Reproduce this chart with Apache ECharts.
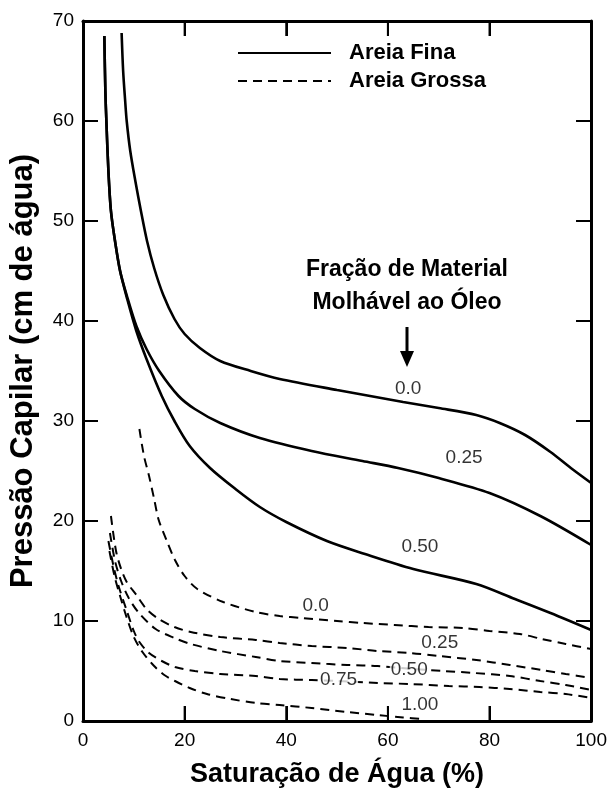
<!DOCTYPE html>
<html>
<head>
<meta charset="utf-8">
<script src="https://cdn.jsdelivr.net/npm/echarts@6/dist/echarts.min.js"></script>
<style>
  html, body { margin: 0; padding: 0; background: #fff; }
  #chart { width: 610px; height: 793px; }
</style>
</head>
<body>
<div id="chart"></div>
<script>
// Curvas de pressão capilar: [saturação de água (%), pressão capilar (cm de água)]

// Areia fina, por fração de material molhável ao óleo
const fina00 = [[7.6,68.8],[7.9,65],[8.3,62],[8.6,60],[9.3,57],[10.3,54],[11.4,51],[12.6,48],[14,45.3],[15.8,42.6],[18,40.2],[20,38.7],[23,37.3],[27,36],[33,35],[38.7,34.2],[50,33.1],[63,31.9],[70,31.3],[77.4,30.6],[82,29.8],[87,28.6],[92,26.9],[96,25.3],[100,23.8]];
const fina25 = [[4.2,68.5],[4.4,63],[4.6,60],[5.0,55],[5.5,51],[6.3,48],[7.3,45],[8.7,42.4],[10.5,39.5],[12.5,37.2],[15,35],[18.8,32.5],[22,31.2],[27,29.8],[34.8,28.3],[45,27],[55,26],[62,25.3],[70,24.3],[80,22.8],[90,20.5],[100,17.6]];
const fina50 = [[4.2,68.5],[4.4,63],[4.6,60],[5.0,55],[5.5,51],[6.3,48],[7.3,45],[8.7,42.2],[10.5,39],[12.5,36.2],[15.5,32.5],[18,30],[21,27.5],[25,25.3],[30,23.2],[34.8,21.4],[40,19.9],[48,18],[55.5,16.7],[65,15.2],[77.4,13.7],[85,12.2],[92,10.8],[100,9.1]];

// Areia grossa, por fração de material molhável ao óleo
const grossa00 = [[11.1,29.2],[12,26.5],[13,24.5],[14,22.2],[14.9,20.1],[16.5,18],[18.1,16.1],[20,14.5],[22.5,13.2],[27.6,11.9],[34,10.9],[38.7,10.5],[43,10.3],[50,10],[55,9.8],[61.3,9.6],[68,9.4],[74.8,9.3],[80,9.0],[86,8.7],[90.3,8.2],[95,7.7],[100,7.2]];
const grossa25 = [[5.5,20.5],[6.5,17],[7.5,15.2],[8.6,13.9],[10.5,12.6],[12.5,11.2],[14.9,10.2],[18,9.4],[21.2,8.9],[27,8.4],[34,8.1],[38.7,7.8],[45,7.5],[52,7.3],[58,7.0],[64.4,6.8],[70,6.5],[77.4,6.1],[84,5.6],[90.3,5.1],[95,4.7],[100,4.3]];
const grossa50 = [[5.3,18.8],[6.3,16],[7.5,14],[9,12.3],[11,10.8],[14.3,9.2],[18,8.3],[21.2,7.7],[27,7.0],[34,6.4],[38.7,6.0],[45,5.8],[52,5.6],[58,5.5],[65,5.2],[71,5.0],[77,4.8],[84,4.5],[90,4.0],[95,3.6],[100,3.1]];
const grossa75 = [[5.0,18],[6,15.5],[7,13.5],[8.5,11.2],[10,9],[11.1,7.9],[13,6.8],[15.5,6.0],[18.1,5.4],[22,5.0],[27,4.7],[34,4.5],[38.7,4.2],[45,4.1],[50,4.0],[58,3.8],[64.4,3.7],[72,3.5],[78,3.4],[84,3.2],[90,2.9],[95,2.7],[100,2.3]];
const grossa100 = [[5.2,17],[6.2,14.5],[7.3,12.5],[8.5,10.5],[10,8.4],[11.7,6.9],[14,5.5],[16,4.6],[18.1,4.0],[21,3.3],[24.4,2.7],[29,2.2],[34,1.8],[38.7,1.6],[45,1.3],[52,0.9],[58,0.6],[63,0.35],[67,0.2]];

// Rótulos das frações: texto e ponto de ancoragem (saturação, pressão)
const rotulosFina = ['0.0', '0.25', '0.50'];
const ancorasFina = [[64, 33.2], [75, 26.3], [66.3, 17.4]];
const rotulosGrossa = ['0.0', '0.25', '0.50', '0.75', '1.00'];
const ancorasGrossa = [[45.8, 11.5], [70.2, 7.8], [64.2, 5.1], [50.3, 4.1], [66.3, 1.6]];

// Escalas e marcas internas da moldura
const xTicks = { min: 0, max: 100, interval: 20 };
const yTicks = { min: 0, max: 70, interval: 10 };
const marcasX = [20, 40, 60, 80];
const marcasY = [10, 20, 30, 40, 50, 60];

const nomeFina = 'Areia Fina';
const nomeGrossa = 'Areia Grossa';

const fonte = 'Liberation Sans, Arial, sans-serif';
const TRACO = 15;

function curva(name, data, dashed) {
  return {
    type: 'line',
    name: name,
    data: data,
    symbol: 'none',
    smooth: 0.3,
    silent: true,
    lineStyle: dashed
      ? { color: '#000', width: 2, type: [9, 6] }
      : { color: '#000', width: 2.6 },
    z: 3
  };
}

function rotulos(textos, ancoras) {
  return {
    type: 'scatter',
    name: 'rotulos',
    symbolSize: 0,
    silent: true,
    z: 5,
    data: textos.map((t, i) => ({ value: ancoras[i], texto: t })),
    label: {
      show: true,
      position: 'inside',
      formatter: p => p.data.texto,
      color: '#000',
      fontSize: 19,
      fontFamily: fonte,
      backgroundColor: '#fff',
      padding: [0, 1]
    }
  };
}

function eixo(extra, noZero) {
  return Object.assign({
    type: 'value',
    axisLine: { show: true, onZero: noZero, lineStyle: { color: '#000', width: 3 } },
    axisTick: { show: true, inside: true, length: TRACO, lineStyle: { color: '#000', width: 2 } },
    splitLine: { show: false }
  }, extra);
}

// Anotação: texto e seta apontando para os rótulos das curvas
const anotacao = [
  {
    type: 'text', silent: true,
    style: {
      x: 407, y: 270, text: 'Fração de Material', align: 'center', verticalAlign: 'middle',
      fontSize: 23, fontWeight: 'bold', fontFamily: fonte, fill: '#000'
    }
  },
  {
    type: 'text', silent: true,
    style: {
      x: 407, y: 303, text: 'Molhável ao Óleo', align: 'center', verticalAlign: 'middle',
      fontSize: 23, fontWeight: 'bold', fontFamily: fonte, fill: '#000'
    }
  },
  {
    type: 'line', silent: true,
    shape: { x1: 407, y1: 327, x2: 407, y2: 353 },
    style: { stroke: '#000', lineWidth: 3 }
  },
  {
    type: 'polygon', silent: true,
    shape: { points: [[400, 351], [414, 351], [407, 367]] },
    style: { fill: '#000' }
  }
];

const chart = echarts.init(document.getElementById('chart'), null, { renderer: 'canvas' });

chart.setOption({
  backgroundColor: '#fff',
  animation: false,
  grid: { left: 80, right: 13, top: 21, bottom: 64, containLabel: false },
  legend: {
    data: [nomeFina, nomeGrossa],
    orient: 'vertical',
    left: 232,
    top: 37,
    itemWidth: 93,
    itemHeight: 14,
    itemGap: 6,
    selectedMode: false,
    itemStyle: { color: 'rgba(0,0,0,0)', borderColor: 'rgba(0,0,0,0)', borderWidth: 0 },
    textStyle: { fontSize: 22, lineHeight: 22, fontWeight: 'bold', fontFamily: fonte, color: '#000', padding: [0, 0, 0, 13] }
  },
  xAxis: [
    eixo({
      position: 'bottom',
      min: xTicks.min, max: xTicks.max, interval: xTicks.interval,
      name: 'Saturação de Água (%)', nameLocation: 'middle', nameGap: 40,
      nameTextStyle: { fontSize: 27, fontWeight: 'bold', fontFamily: fonte, color: '#000' },
      axisLabel: { fontSize: 19, fontFamily: fonte, color: '#000', margin: 10 }
    }, true),
    eixo({
      position: 'top',
      min: xTicks.min, max: xTicks.max, interval: xTicks.interval,
      axisLabel: { show: false }
    }, false)
  ],
  yAxis: [
    eixo({
      position: 'left',
      min: yTicks.min, max: yTicks.max, interval: yTicks.interval,
      name: 'Pressão Capilar (cm de água)', nameLocation: 'middle', nameGap: 44,
      nameTextStyle: { fontSize: 31, fontWeight: 'bold', fontFamily: fonte, color: '#000' },
      axisLabel: { fontSize: 19, fontFamily: fonte, color: '#000', margin: 9 }
    }, true),
    eixo({
      position: 'right',
      min: yTicks.min, max: yTicks.max, interval: yTicks.interval,
      axisLabel: { show: false }
    }, false)
  ],
  series: [
    curva(nomeFina, fina00, false),
    curva(nomeFina, fina25, false),
    curva(nomeFina, fina50, false),
    curva(nomeGrossa, grossa00, true),
    curva(nomeGrossa, grossa25, true),
    curva(nomeGrossa, grossa50, true),
    curva(nomeGrossa, grossa75, true),
    curva(nomeGrossa, grossa100, true),
    rotulos(rotulosFina, ancorasFina),
    rotulos(rotulosGrossa, ancorasGrossa)
  ],
  graphic: anotacao
});

// Traços internos nos quatro lados da moldura, posicionados pela escala dos eixos
const estiloTraco = () => ({ stroke: '#000', lineWidth: 2 });
const px = (x, y) => chart.convertToPixel({ xAxisIndex: 0, yAxisIndex: 0 }, [x, y]);
const tracos = [];
marcasX.forEach(v => {
  const a = px(v, yTicks.min), b = px(v, yTicks.max);
  if (!a || !b) return;
  tracos.push({ type: 'line', silent: true, z: 10, shape: { x1: a[0], y1: a[1], x2: a[0], y2: a[1] - TRACO }, style: estiloTraco() });
  tracos.push({ type: 'line', silent: true, z: 10, shape: { x1: b[0], y1: b[1], x2: b[0], y2: b[1] + TRACO }, style: estiloTraco() });
});
marcasY.forEach(v => {
  const a = px(xTicks.min, v), b = px(xTicks.max, v);
  if (!a || !b) return;
  tracos.push({ type: 'line', silent: true, z: 10, shape: { x1: a[0], y1: a[1], x2: a[0] + TRACO, y2: a[1] }, style: estiloTraco() });
  tracos.push({ type: 'line', silent: true, z: 10, shape: { x1: b[0], y1: b[1], x2: b[0] - TRACO, y2: b[1] }, style: estiloTraco() });
});
chart.setOption({ graphic: anotacao.concat(tracos) });
</script>
</body>
</html>
